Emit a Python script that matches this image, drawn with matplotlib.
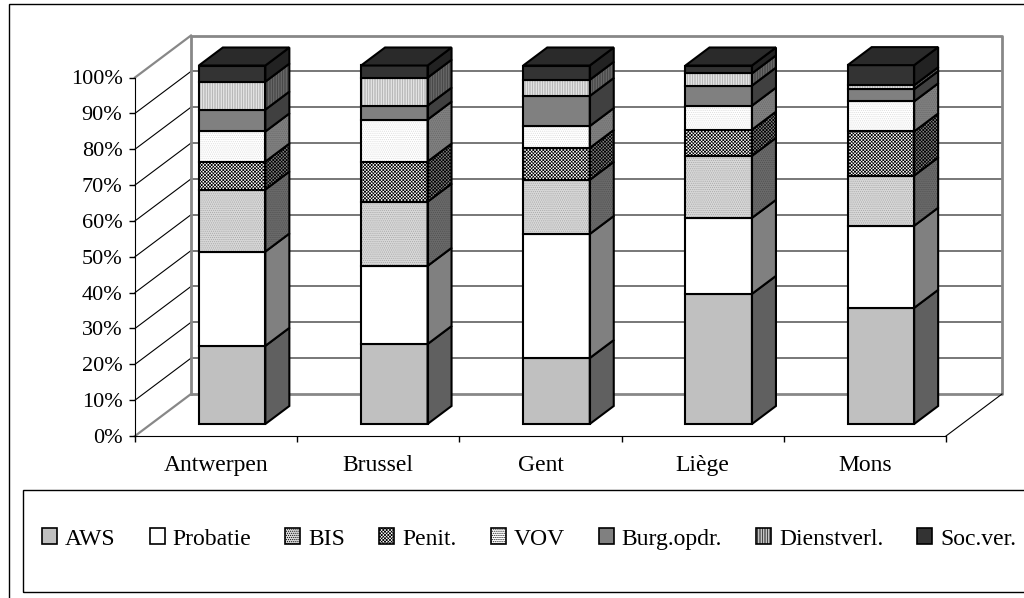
import matplotlib
matplotlib.use('Agg')
import matplotlib.pyplot as plt
from matplotlib.patches import Polygon, Rectangle, Patch

plt.rcParams['font.family'] = ['Liberation Serif', 'DejaVu Serif']
plt.rcParams['hatch.linewidth'] = 0.5

cities = ["Antwerpen", "Brussel", "Gent", "Liège", "Mons"]
series = ["AWS", "Probatie", "BIS", "Penit.", "VOV", "Burg.opdr.", "Dienstverl.", "Soc.ver."]
aws = [21.8, 22.3, 18.4, 36.3, 32.4]
probatie = [26.3, 21.8, 34.6, 21.2, 22.9]
bis = [17.3, 17.9, 15.1, 17.3, 14.0]
penit = [7.8, 11.2, 8.9, 7.3, 12.3]
vov = [8.4, 11.7, 6.1, 6.7, 8.4]
burg = [6.1, 3.9, 8.4, 5.6, 3.4]
dienst = [7.8, 7.8, 4.5, 3.4, 1.1]
soc = [4.5, 3.4, 4.0, 2.2, 5.6]
values = [aws, probatie, bis, penit, vov, burg, dienst, soc]
yticks = [0, 10, 20, 30, 40, 50, 60, 70, 80, 90, 100]

# front colour, side colour, hatch, hatch colour front, hatch colour side
styles = [
    ("#c0c0c0", "#606060", None, None, None),
    ("#ffffff", "#808080", None, None, None),
    ("#d8d8d8", "#6a6a6a", "........", "#a8a8a8", "#505050"),
    ("#ffffff", "#808080", "xxxxxxxxxx", "#000000", "#000000"),
    ("#ffffff", "#808080", "........", "#dcdcdc", "#686868"),
    ("#808080", "#404040", None, None, None),
    ("#f0f0f0", "#707070", "||||||||||", "#a0a0a0", "#383838"),
    ("#333333", "#222222", None, None, None),
]

W, H = 1024, 598
fig = plt.figure(figsize=(W / 100, H / 100), dpi=100)
left, right, top, bottom = 135, 946, 77.5, 436
ax = fig.add_axes([left / W, 1 - bottom / H, (right - left) / W, (bottom - top) / H])
ax.set_xlim(0, 5)
ax.set_ylim(0, 100)

# depth of the fake 3d box, in data units
DX = 56 / ((right - left) / 5)
DY = 42 / ((bottom - top) / 100)


def proj(x, y, d):
    return (x + d * DX, y + d * DY)


# back wall
for v in yticks[1:-1]:
    ax.plot([DX, 5 + DX], [v + DY, v + DY], color="#606060", lw=1.2, clip_on=False, zorder=1)
    ax.plot([0, DX], [v, v + DY], color="black", lw=0.8, clip_on=False, zorder=1)
gray = "#888888"
ax.plot([DX, DX, 5 + DX, 5 + DX, DX], [DY, 100 + DY, 100 + DY, DY, DY], color=gray, lw=2, clip_on=False, zorder=1)
ax.plot([0, DX], [0, DY], color=gray, lw=1.6, clip_on=False, zorder=1)
ax.plot([0, DX], [100, 100 + DY], color=gray, lw=1.6, clip_on=False, zorder=1)
ax.plot([5, 5 + DX], [0, DY], color="black", lw=0.8, clip_on=False, zorder=1)


def face(points, fc, hatch, hc, z):
    ax.add_patch(Polygon(points, closed=True, fc=fc, ec="none", clip_on=False, zorder=z))
    if hatch:
        ax.add_patch(Polygon(points, closed=True, fc="none", ec=hc, hatch=hatch, lw=0, clip_on=False, zorder=z))
    ax.add_patch(Polygon(points, closed=True, fc="none", ec="black", lw=1.5, clip_on=False, zorder=z + 0.1))


bar_w = 0.41
d0, d1 = 12 / 42, 30 / 42
for i in range(len(cities)):
    x0 = i + 0.5 - bar_w / 2
    x1 = x0 + bar_w
    base = 0
    for s, vals in enumerate(values):
        fc, sc, hatch, hc, hs = styles[s]
        y0, y1 = base, base + vals[i]
        front = [proj(x0, y0, d0), proj(x1, y0, d0), proj(x1, y1, d0), proj(x0, y1, d0)]
        side = [proj(x1, y0, d0), proj(x1, y0, d1), proj(x1, y1, d1), proj(x1, y1, d0)]
        face(side, sc, hatch, hs, 3 + s * 0.2)
        face(front, fc, hatch, hc, 3 + s * 0.2)
        base = y1
    roof = [proj(x0, base, d0), proj(x1, base, d0), proj(x1, base, d1), proj(x0, base, d1)]
    face(roof, "#2a2a2a", None, None, 6)

ax.set_yticks(yticks)
ax.set_yticklabels([str(v) + "%" for v in yticks], fontsize=16)
ax.set_xticks(range(6))
ax.set_xticklabels([])
for i, name in enumerate(cities):
    ax.annotate(name, (i + 0.5, 0), xytext=(0, -25), textcoords="offset points",
                ha="center", va="baseline", fontsize=17, annotation_clip=False)
ax.tick_params(axis="both", length=4, width=1, direction="out", color="black")
ax.tick_params(axis="y", pad=5)
ax.patch.set_visible(False)
ax.spines["top"].set_visible(False)
ax.spines["right"].set_visible(False)

# outer frame and legend box, figure pixel coordinates
fig.add_artist(Rectangle((8.5 / W, -0.01), 1.1, 1 - 4 / H + 0.01, transform=fig.transFigure,
                         fc="none", ec="black", lw=1))
fig.add_artist(Rectangle((22.5 / W, 1 - 592 / H), 1.1, 102 / H, transform=fig.transFigure,
                         fc="none", ec="black", lw=1))

handles = []
for s, name in enumerate(series):
    fc, sc, hatch, hc, hs = styles[s]
    handles.append(Patch(facecolor=fc, edgecolor=hc if hatch else "black", hatch=hatch, lw=0.8, label=name))
leg = fig.legend(handles=handles, loc="center left", bbox_to_anchor=(42 / W, 1 - 539 / H), ncol=8, frameon=False,
                 fontsize=17, handlelength=0.635, handleheight=0.635, handletextpad=0.34, columnspacing=1.44,
                 borderpad=0, borderaxespad=0)
for h in leg.get_patches():
    h.set_edgecolor("black")
    h.set_linewidth(1.2)

fig.savefig("out.png", dpi=100)
